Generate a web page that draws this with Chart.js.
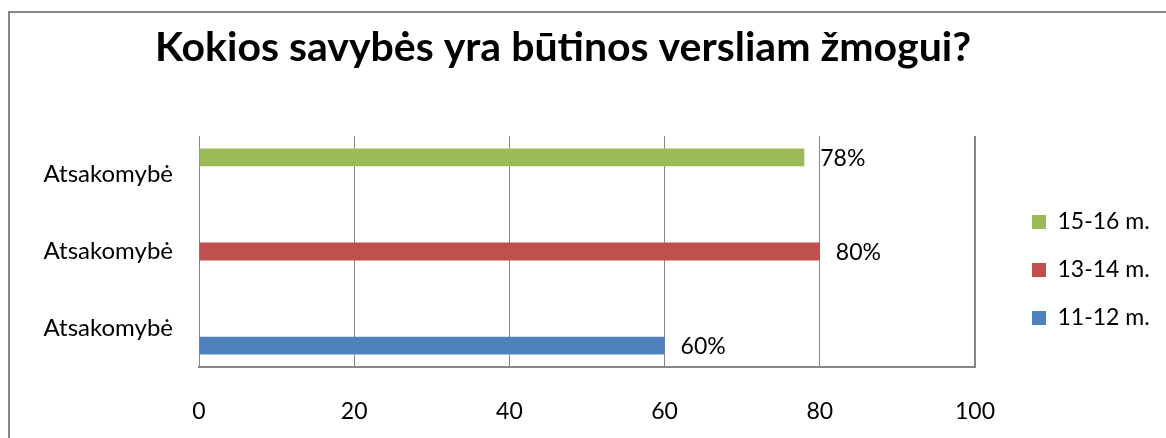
<!DOCTYPE html>
<html>
<head>
<meta charset="utf-8">
<script src="https://cdn.jsdelivr.net/npm/chart.js@4.4.1/dist/chart.umd.min.js"></script>
<style>
  html, body { margin: 0; padding: 0; background: #ffffff; }
  #c { display: block; }
</style>
</head>
<body>
<canvas id="c" width="1166" height="438"></canvas>
<script>
// ---- data ----
const titleText = 'Kokios savybės yra būtinos versliam žmogui?';
const categories = ['Atsakomybė', 'Atsakomybė', 'Atsakomybė'];
const seriesNames = ['15-16 m.', '13-14 m.', '11-12 m.'];
const series1516 = [78, null, null];
const series1314 = [null, 80, null];
const series1112 = [null, null, 60];
const xTicks = [0, 20, 40, 60, 80, 100];

const colors = ['#9BBB59', '#C0504D', '#4F81BD'];
const gridColor = '#868686';
const FONT = 'Lato';
const FS = 23;

// measure legend text width to place the legend
const mctx = document.createElement('canvas').getContext('2d');
mctx.font = 'normal ' + FS + 'px ' + FONT;
const legendTextW = Math.max(...seriesNames.map(s => mctx.measureText(s).width));
const LEG_PAD = 25, LEG_BOX = 14, GAP_AXIS = 32;
const legendW = LEG_PAD + LEG_BOX + FS / 2 + legendTextW + 10;
const rightPad = Math.max(0, 1166 - 975 - GAP_AXIS - legendW);

const frame = {
  id: 'frame',
  beforeDraw(chart) {
    const ctx = chart.ctx;
    ctx.save();
    ctx.fillStyle = '#ffffff';
    ctx.fillRect(0, 0, chart.width, chart.height);
    ctx.strokeStyle = '#878787';
    ctx.lineWidth = 2;
    ctx.strokeRect(9, 12, 1300, 600);
    ctx.restore();
  }
};

// centre the title where the reference has it
const titlePlace = {
  id: 'titlePlace',
  afterLayout(chart) {
    const t = chart.titleBlock;
    if (t) { t.left = 0; t.right = 1126; }
  }
};

const valueLabels = {
  id: 'valueLabels',
  afterDatasetsDraw(chart) {
    const ctx = chart.ctx;
    ctx.save();
    ctx.font = 'normal ' + FS + 'px ' + FONT;
    ctx.fillStyle = '#000000';
    ctx.textAlign = 'left';
    ctx.textBaseline = 'middle';
    chart.data.datasets.forEach((ds, i) => {
      const meta = chart.getDatasetMeta(i);
      meta.data.forEach((bar, j) => {
        const v = ds.data[j];
        if (v === null || v === undefined) return;
        ctx.fillText(v + '%', bar.x + 16, bar.y + 1);
      });
    });
    ctx.restore();
  }
};

new Chart(document.getElementById('c'), {
  type: 'bar',
  data: {
    labels: categories,
    datasets: [
      { label: seriesNames[0], data: series1516, backgroundColor: colors[0], borderWidth: 0, xAxisID: 'x', yAxisID: 'y' },
      { label: seriesNames[1], data: series1314, backgroundColor: colors[1], borderWidth: 0, xAxisID: 'x', yAxisID: 'y' },
      { label: seriesNames[2], data: series1112, backgroundColor: colors[2], borderWidth: 0, xAxisID: 'x', yAxisID: 'y' }
    ]
  },
  options: {
    indexAxis: 'y',
    responsive: false,
    animation: false,
    devicePixelRatio: 1,
    categoryPercentage: 0.667,
    barPercentage: 1.05,
    layout: { padding: { left: 0, right: rightPad, top: 0, bottom: 0 } },
    scales: {
      x: {
        type: 'linear',
        min: 0,
        max: 100,
        afterBuildTicks(scale) { scale.ticks = xTicks.map(v => ({ value: v })); },
        afterFit(scale) { scale.height = 438 - 367; },
        grid: {
          color: gridColor,
          lineWidth: (c) => (c.tick && c.tick.value === 100 ? 2 : 1),
          drawTicks: false
        },
        border: { display: true, color: gridColor, width: 2 },
        ticks: { color: '#000000', font: { family: FONT, size: FS }, padding: 31, maxRotation: 0 }
      },
      y: {
        type: 'category',
        afterFit(scale) { scale.width = 199; },
        grid: { display: false, drawTicks: false },
        border: { display: true, color: gridColor, width: 1 },
        ticks: { color: '#000000', font: { family: FONT, size: 24 }, padding: 26 }
      },
      y2: {
        type: 'linear',
        position: 'right',
        display: true,
        grid: { display: false, drawTicks: false },
        border: { display: false },
        ticks: { display: false },
        afterFit(scale) { scale.width = GAP_AXIS; }
      }
    },
    plugins: {
      title: {
        display: true,
        text: titleText,
        align: 'center',
        color: '#000000',
        font: { family: FONT, size: 41, weight: 'bold' },
        padding: { top: 23, bottom: 63.8 }
      },
      legend: {
        display: true,
        position: 'right',
        fullSize: false,
        align: 'center',
        title: { display: true, text: '', font: { size: 12 }, padding: { top: 22.6, bottom: 0 } },
        labels: {
          color: '#000000',
          font: { family: FONT, size: FS },
          boxWidth: LEG_BOX,
          boxHeight: LEG_BOX,
          padding: LEG_PAD
        }
      },
      tooltip: { enabled: false }
    }
  },
  plugins: [frame, titlePlace, valueLabels]
});
</script>
</body>
</html>
